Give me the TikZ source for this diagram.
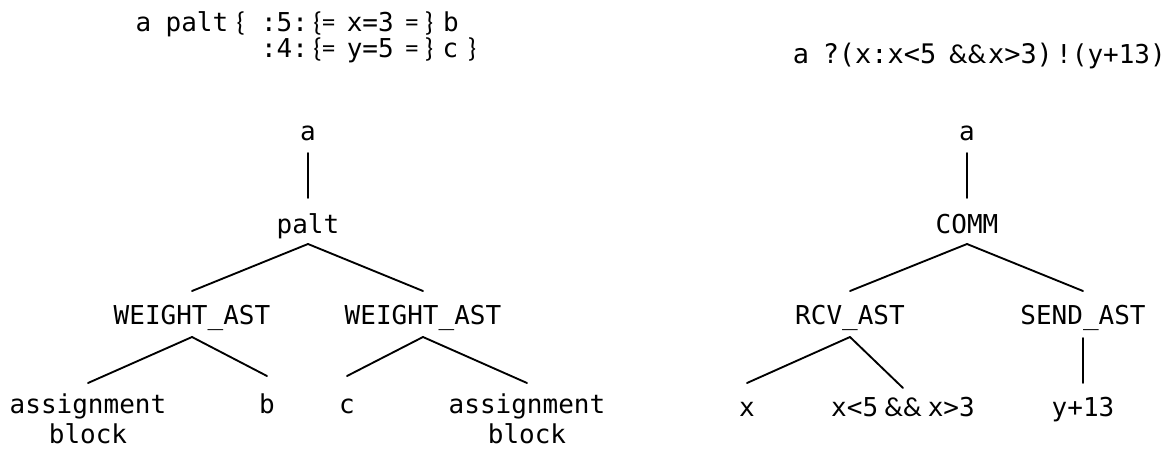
\documentclass[tikz,border=0pt]{standalone}
\usepackage{fontspec}
\newfontfamily\mono{DejaVu Sans Mono}
\newfontfamily\calib{Carlito}
\newcommand\cb[1]{{\calib\fontsize{20.5}{24}\selectfont #1}}
\begin{document}
\begin{tikzpicture}[x=0.75pt,y=-0.75pt,
  txt/.style={inner sep=0pt, anchor=base, font=\mono\fontsize{19.5}{22.5}\selectfont},
  ttr/.style={inner sep=0pt, anchor=base, font=\mono\fontsize{20.2}{22.5}\selectfont},
  cal/.style={inner sep=0pt, anchor=base, font=\calib\fontsize{20.5}{24}\selectfont},
  edge/.style={line width=1.4pt, line cap=round}]
\useasboundingbox (0,0) rectangle (1171,450);
% top-left source text
\node[txt] (t1a) at (143.5,31) {a};
\node[txt] (t1palt) at (197,31) {palt};
\node[cal] (t1lb) at (241,31) {\{};
\node[txt] (t1w) at (284.5,31) {:5:};
\node[txt, anchor=base west] (t1as) at (313,31) {\cb{\{=}\hspace{8.5pt}x=3\hspace{8.5pt}\cb{=\hspace{4.5pt}\}}};
\node[txt] (t1b) at (451,31) {b};
\node[txt] (t2w) at (284.5,57) {:4:};
\node[txt, anchor=base west] (t2as) at (313,57) {\cb{\{=}\hspace{8.5pt}y=5\hspace{8.5pt}\cb{=\hspace{4.5pt}\}}};
\node[txt] (t2c) at (450.5,57) {c};
\node[cal] (t2rb) at (472,57) {\}};
% top-right source text
\node[ttr] (r1a) at (801,63) {a};
\node[ttr] (r1q) at (879.5,63) {?(x:x<5};
\node[cal] (r1and) at (967.5,63) {\&\&};
\node[ttr] (r1g) at (1020.5,63) {x>3)};
\node[txt] (r1s) at (1111,63) {!(y+13)};
% left tree
\node[txt] (la) at (308,140) {a};
\node[txt] (palt) at (308,233) {palt};
\node[txt] (w1) at (192,324) {WEIGHT\_AST};
\node[txt] (w2) at (423,324) {WEIGHT\_AST};
\node[txt] (as1) at (88,413) {\begin{tabular}[t]{@{}c@{}}assignment\\block\end{tabular}};
\node[txt] (lb) at (267,413) {b};
\node[txt] (lc) at (347,413) {c};
\node[txt] (as2) at (527,413) {\begin{tabular}[t]{@{}c@{}}assignment\\block\end{tabular}};
\draw[edge] ([yshift=-9.75pt]la.base) -- ([yshift=26.25pt]palt.base);
\draw[edge] ([yshift=-8.25pt]palt.base) -- ([yshift=24.75pt]w1.base);
\draw[edge] ([yshift=-8.25pt]palt.base) -- ([yshift=24.75pt]w2.base);
\draw[edge] ([yshift=-9.75pt]w1.base) -- ([yshift=22.5pt]as1.base);
\draw[edge] ([yshift=-9.75pt]w1.base) -- ([yshift=27.75pt]lb.base);
\draw[edge] ([yshift=-9.75pt]w2.base) -- ([yshift=27.75pt]lc.base);
\draw[edge] ([yshift=-9.75pt]w2.base) -- ([yshift=22.5pt]as2.base);
% right tree
\node[txt] (ra) at (967,140) {a};
\node[txt] (comm) at (967,233) {COMM};
\node[txt] (rcv) at (850,324) {RCV\_AST};
\node[txt] (send) at (1083,324) {SEND\_AST};
\node[txt] (rx) at (747,416) {x};
\node[txt] (cond) at (903,416) {x<5\cb{ \&\& }x>3};
\node[txt] (y13) at (1083,416) {y+13};
\draw[edge] ([yshift=-9.75pt]ra.base) -- ([yshift=26.25pt]comm.base);
\draw[edge] ([yshift=-8.25pt]comm.base) -- ([yshift=24.75pt]rcv.base);
\draw[edge] ([yshift=-8.25pt]comm.base) -- ([yshift=24.75pt]send.base);
\draw[edge] ([yshift=-9.75pt]rcv.base) -- ([yshift=24.75pt]rx.base);
\draw[edge] ([yshift=-9.75pt]rcv.base) -- ([yshift=21pt]cond.base);
\draw[edge] ([yshift=-10.5pt]send.base) -- ([yshift=24.75pt]y13.base);
\end{tikzpicture}
\end{document}
